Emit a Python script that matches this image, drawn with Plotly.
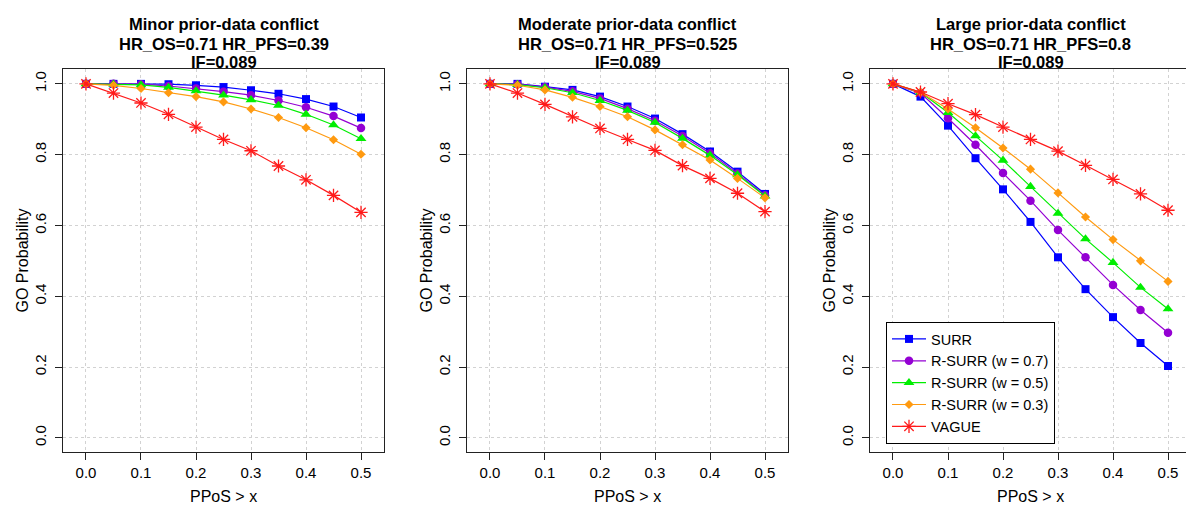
import plotly.graph_objects as go

# ---------------- data ----------------
x_vals = [0.0, 0.05, 0.1, 0.15, 0.2, 0.25, 0.3, 0.35, 0.4, 0.45, 0.5]

series_names = ["SURR", "R-SURR (w = 0.7)", "R-SURR (w = 0.5)", "R-SURR (w = 0.3)", "VAGUE"]

titles = [
    ["Minor prior-data conflict", "HR_OS=0.71 HR_PFS=0.39", "IF=0.089"],
    ["Moderate prior-data conflict", "HR_OS=0.71 HR_PFS=0.525", "IF=0.089"],
    ["Large prior-data conflict", "HR_OS=0.71 HR_PFS=0.8", "IF=0.089"],
]

# Panel 1: minor conflict
p1_surr = [1.0, 1.0, 1.0, 0.999, 0.996, 0.991, 0.982, 0.972, 0.957, 0.936, 0.905]
p1_w07 = [1.0, 1.0, 0.999, 0.994, 0.987, 0.978, 0.968, 0.953, 0.934, 0.909, 0.875]
p1_w05 = [1.0, 0.999, 0.997, 0.990, 0.980, 0.968, 0.955, 0.939, 0.914, 0.884, 0.845]
p1_w03 = [1.0, 0.996, 0.987, 0.975, 0.964, 0.949, 0.929, 0.905, 0.876, 0.842, 0.801]
p1_vague = [1.0, 0.974, 0.946, 0.914, 0.878, 0.843, 0.811, 0.768, 0.729, 0.685, 0.637]

# Panel 2: moderate conflict
p2_surr = [1.0, 1.0, 0.992, 0.983, 0.964, 0.936, 0.902, 0.858, 0.809, 0.752, 0.689]
p2_w07 = [1.0, 0.999, 0.991, 0.979, 0.959, 0.930, 0.896, 0.853, 0.804, 0.747, 0.685]
p2_w05 = [1.0, 0.998, 0.989, 0.975, 0.953, 0.925, 0.891, 0.846, 0.798, 0.743, 0.683]
p2_w03 = [1.0, 0.996, 0.983, 0.962, 0.936, 0.907, 0.870, 0.828, 0.785, 0.733, 0.678]
p2_vague = [1.0, 0.974, 0.942, 0.907, 0.874, 0.843, 0.812, 0.769, 0.733, 0.691, 0.639]

# Panel 3: large conflict
p3_surr = [1.0, 0.964, 0.882, 0.790, 0.702, 0.610, 0.510, 0.420, 0.341, 0.268, 0.203]
p3_w07 = [1.0, 0.974, 0.903, 0.828, 0.748, 0.670, 0.587, 0.510, 0.432, 0.361, 0.297]
p3_w05 = [1.0, 0.976, 0.919, 0.853, 0.784, 0.710, 0.634, 0.562, 0.495, 0.425, 0.364]
p3_w03 = [1.0, 0.976, 0.929, 0.876, 0.819, 0.759, 0.692, 0.624, 0.560, 0.500, 0.442]
p3_vague = [1.0, 0.977, 0.944, 0.913, 0.878, 0.843, 0.810, 0.770, 0.730, 0.689, 0.643]

x_ticks = [0.0, 0.1, 0.2, 0.3, 0.4, 0.5]
y_ticks = [0.0, 0.2, 0.4, 0.6, 0.8, 1.0]

panels = [
    [p1_surr, p1_w07, p1_w05, p1_w03, p1_vague],
    [p2_surr, p2_w07, p2_w05, p2_w03, p2_vague],
    [p3_surr, p3_w07, p3_w05, p3_w03, p3_vague],
]

# ---------------- styles ----------------
colors = ["#0000FF", "#9400D3", "#00EE00", "#FF9A10", "#FF1A1A"]
symbols = ["square", "circle", "triangle-up", "diamond", "asterisk-open"]
msizes = [8, 8.5, 9.5, 7, 11]

W, H = 1186, 506
FONT = "Liberation Sans, Arial, Helvetica, sans-serif"

# pixel geometry of the three plot boxes
box_px = [(63, 384), (467, 788), (870, 1186)]
top_px, bot_px = 69, 452
x_ranges = [[-0.0418, 0.5418], [-0.0418, 0.5418], [-0.0418, 0.5327]]

fig = go.Figure()

for p, data in enumerate(panels):
    ax = "" if p == 0 else str(p + 1)
    for i, ys in enumerate(data):
        fig.add_trace(go.Scatter(
            x=x_vals, y=ys, mode="lines+markers",
            name=series_names[i],
            legendgroup=series_names[i],
            showlegend=(p == 2),
            line=dict(color=colors[i], width=1.2),
            marker=dict(symbol=symbols[i], size=msizes[i], color=colors[i],
                        line=dict(color=colors[i], width=1.3 if i == 4 else 0)),
            xaxis="x" + ax, yaxis="y" + ax,
        ))

layout = dict(
    width=W, height=H,
    margin=dict(l=0, r=0, t=0, b=0),
    paper_bgcolor="white", plot_bgcolor="white",
    font=dict(family=FONT, size=15, color="black"),
    showlegend=True,
    legend=dict(
        x=886 / W, y=1 - 322 / H, xanchor="left", yanchor="top",
        bgcolor="white", bordercolor="black", borderwidth=1,
        font=dict(family=FONT, size=14.5, color="black"),
        itemwidth=34, tracegroupgap=0,
    ),
)

annotations = []
for p in range(3):
    ax = "" if p == 0 else str(p + 1)
    l, r = box_px[p]
    common = dict(
        showline=True, mirror=True, linecolor="#222222", linewidth=1.2,
        showgrid=True, gridcolor="#D2D2D2", griddash="dot", gridwidth=1,
        zeroline=False, ticks="outside", ticklen=7, tickwidth=1.1,
        tickcolor="#222222", tickfont=dict(family=FONT, size=15, color="black"),
        tickformat=".1f",
    )
    layout["xaxis" + ax] = dict(
        common, domain=[l / W, min(r / W, 1.0)], range=x_ranges[p],
        tickmode="array", tickvals=x_ticks, anchor="y" + ax,
    )
    layout["yaxis" + ax] = dict(
        common, domain=[1 - bot_px / H, 1 - top_px / H], range=[-0.04, 1.042],
        tickmode="array", tickvals=y_ticks, tickangle=-90, anchor="x" + ax,
        ticklabelstandoff=3,
    )
    cx = (l + 321 / 2) / W
    for k, (txt, ypx) in enumerate(zip(titles[p], [24, 43.5, 62])):
        annotations.append(dict(
            text="<b>%s</b>" % txt, x=cx, y=1 - ypx / H, xref="paper", yref="paper",
            xanchor="center", yanchor="middle", showarrow=False,
            font=dict(family=FONT, size=16.5, color="black"),
        ))
    annotations.append(dict(
        text="PPoS > x", x=cx, y=1 - 496 / H, xref="paper", yref="paper",
        xanchor="center", yanchor="middle", showarrow=False,
        font=dict(family=FONT, size=16, color="black"),
    ))
    annotations.append(dict(
        text="GO Probability", x=(l - 41) / W, y=1 - 260.5 / H, xref="paper", yref="paper",
        xanchor="center", yanchor="middle", showarrow=False, textangle=-90,
        font=dict(family=FONT, size=16, color="black"),
    ))

layout["annotations"] = annotations
fig.update_layout(**layout)
fig.write_html("out.html")
